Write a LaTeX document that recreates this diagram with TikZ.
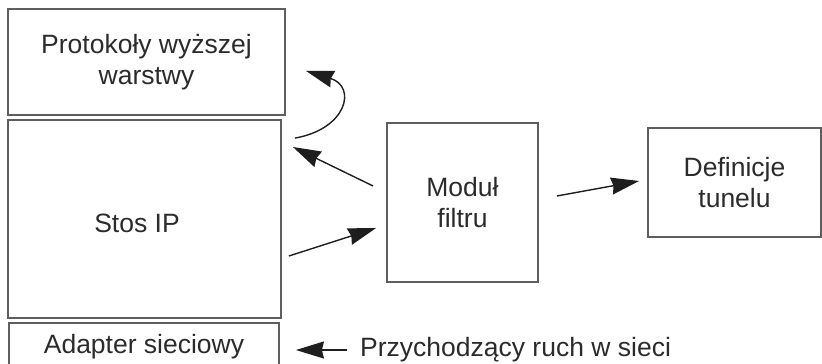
\documentclass[tikz,border=0pt]{standalone}
\usepackage{fontspec}
\setmainfont{Liberation Sans}
\usetikzlibrary{arrows.meta,calc}

\definecolor{frame}{HTML}{5E5E5E}
\definecolor{ink}{HTML}{2B2B2B}
\definecolor{wire}{HTML}{1E1E1E}

\tikzset{
  box/.style={draw=frame, line width=1.8pt, rectangle, inner sep=0pt,
              align=center, text=ink, font=\fontsize{26.5}{30.5}\selectfont},
  caption/.style={text=ink, inner sep=0pt, font=\fontsize{26.5}{30.5}\selectfont},
  arr/.style={draw=wire, line width=1.4pt,
              -{Stealth[length=28pt, width=17pt, inset=2pt]}},
}

\begin{document}
\begin{tikzpicture}[x=1pt, y=-1pt]
  \useasboundingbox (0,0) rectangle (822,364);

  % protocol stack on the left
  \node[box, minimum width=277pt, minimum height=106pt] (proto) at (146.5,62)
    {Protokoły wyższej\\warstwy};
  \node[box, minimum width=273pt, minimum height=198pt,
        label={[caption, xshift=-7.5pt, yshift=-4.5pt]center:Stos IP}] (stos) at (144.5,219) {};
  \node[box, minimum width=270pt, minimum height=48pt] (adapter) at (144,347)
    {Adapter sieciowy};

  % filter and tunnel definitions
  \node[box, minimum width=151pt, minimum height=159pt] (filtr) at (462.5,202.5)
    {Moduł\\filtru};
  \node[box, minimum width=173pt, minimum height=109pt] (tunel) at (734.5,182.5)
    {Definicje\\tunelu};

  % incoming traffic caption
  \node[caption, anchor=base west] (ruch) at (360,356) {Przychodzący ruch w sieci};

  % connectors
  \draw[arr] ($(stos.north east)+(13,19)$)
    to[out=10, in=-17, looseness=2] ($(proto.south east)+(20,-45)$);
  \draw[arr] ($(filtr.west)+(-13,-16.5)$) -- ($(stos.east)+(11,-72)$);
  \draw[arr] ($(stos.east)+(7,37)$) -- ($(filtr.west)+(-10,25.5)$);
  \draw[arr] ($(filtr.east)+(18,-6.5)$) -- ($(tunel.west)+(-8,-1.5)$);
  \draw[arr] ($(ruch.base west)+(-13,-6)$) -- ($(adapter.east)+(16,3)$);
\end{tikzpicture}
\end{document}
